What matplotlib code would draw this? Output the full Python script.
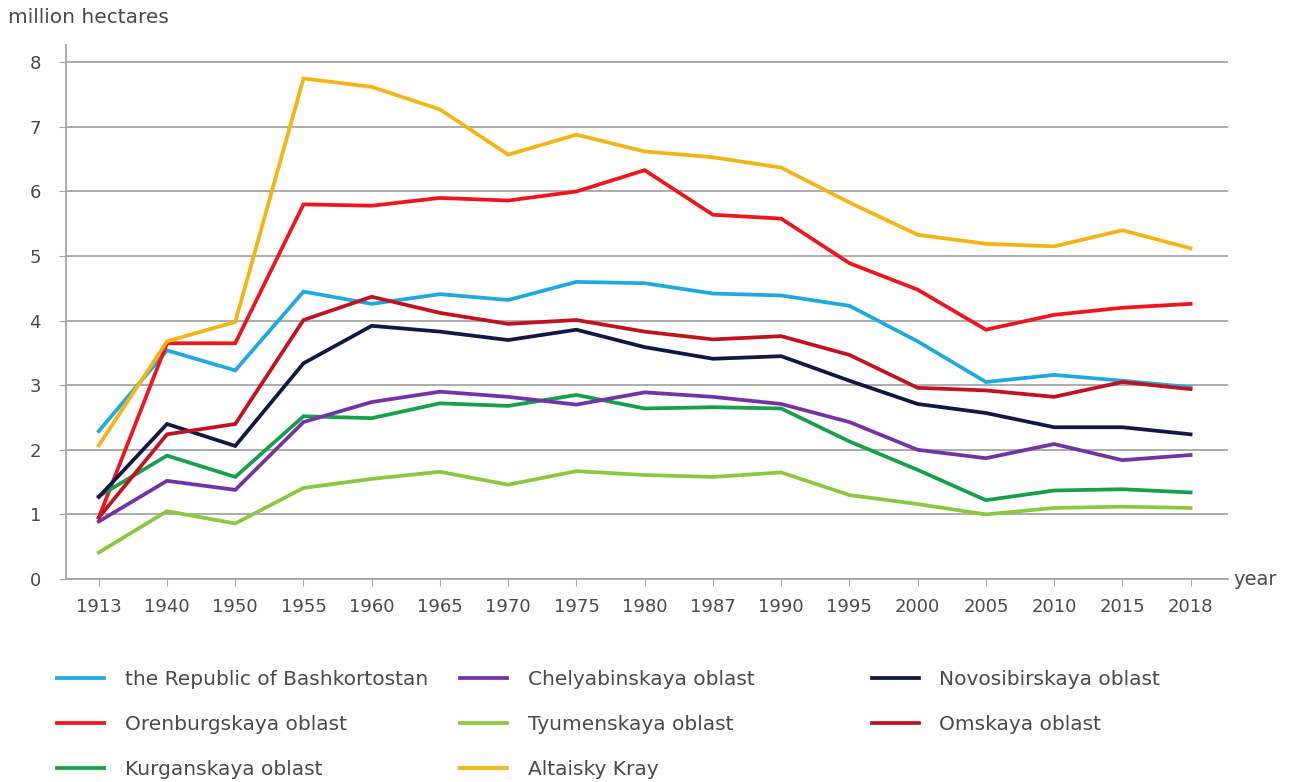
import matplotlib.pyplot as plt
import numpy as np

# data
years = ['1913', '1940', '1950', '1955', '1960', '1965', '1970', '1975', '1980',
         '1987', '1990', '1995', '2000', '2005', '2010', '2015', '2018']

bashkortostan = [2.29, 3.54, 3.23, 4.45, 4.26, 4.41, 4.32, 4.60, 4.58, 4.42, 4.39, 4.23, 3.68, 3.05, 3.16, 3.07, 2.97]
orenburg = [0.95, 3.65, 3.65, 5.80, 5.78, 5.90, 5.86, 6.00, 6.33, 5.64, 5.58, 4.89, 4.48, 3.86, 4.09, 4.20, 4.26]
kurgan = [1.28, 1.91, 1.58, 2.52, 2.49, 2.72, 2.68, 2.85, 2.64, 2.66, 2.64, 2.13, 1.69, 1.22, 1.37, 1.39, 1.34]
chelyabinsk = [0.89, 1.52, 1.38, 2.43, 2.74, 2.90, 2.82, 2.70, 2.89, 2.82, 2.71, 2.43, 2.00, 1.87, 2.09, 1.84, 1.92]
tyumen = [0.41, 1.05, 0.86, 1.41, 1.55, 1.66, 1.46, 1.67, 1.61, 1.58, 1.65, 1.30, 1.16, 1.00, 1.10, 1.12, 1.10]
altai = [2.07, 3.68, 3.98, 7.75, 7.62, 7.27, 6.57, 6.88, 6.62, 6.53, 6.37, 5.83, 5.33, 5.19, 5.15, 5.40, 5.12]
novosibirsk = [1.27, 2.40, 2.06, 3.34, 3.92, 3.83, 3.70, 3.86, 3.59, 3.41, 3.45, 3.07, 2.71, 2.57, 2.35, 2.35, 2.24]
omsk = [0.95, 2.24, 2.40, 4.01, 4.37, 4.12, 3.95, 4.01, 3.83, 3.71, 3.76, 3.47, 2.96, 2.92, 2.82, 3.05, 2.94]

series = [
    ('the Republic of Bashkortostan', bashkortostan, '#1fa9e1'),
    ('Orenburgskaya oblast', orenburg, '#f0141c'),
    ('Kurganskaya oblast', kurgan, '#16a04a'),
    ('Chelyabinskaya oblast', chelyabinsk, '#7432a8'),
    ('Tyumenskaya oblast', tyumen, '#8cc83f'),
    ('Altaisky Kray', altai, '#f4b512'),
    ('Novosibirskaya oblast', novosibirsk, '#111846'),
    ('Omskaya oblast', omsk, '#c3121f'),
]

plt.rcParams['font.family'] = ['DejaVu Sans']
text_color = '#4a4a4a'
fs = 13
legend_fs = 14.5

fig = plt.figure(figsize=(12.97, 7.82), dpi=100)
ax = fig.add_axes([0.0509, 0.2596, 0.896, 0.683])

x = np.arange(len(years))
lines = []
for name, values, color in series:
    line, = ax.plot(x, values, color=color, linewidth=2.7, label=name,
                    solid_joinstyle='miter', zorder=3)
    lines.append(line)

ax.set_xlim(-0.48, 16.55)
ax.set_ylim(0, 8.27)
ax.set_yticks(range(0, 9))
ax.set_xticks(x)
ax.set_xticklabels(years)
ax.yaxis.grid(True, color='#a6a6a6', linewidth=1.3)
ax.set_axisbelow(True)

for side in ['top', 'right']:
    ax.spines[side].set_visible(False)
ax.spines['left'].set_color('#a6a6a6')
ax.spines['bottom'].set_color('#a6a6a6')
ax.spines['left'].set_linewidth(1.3)
ax.spines['bottom'].set_linewidth(1.3)
ax.tick_params(axis='both', colors='#a6a6a6', labelcolor=text_color, labelsize=fs)
ax.tick_params(axis='x', length=5, pad=9)
ax.tick_params(axis='y', length=5, pad=13)

fig.text(0.006, 0.977, 'million hectares', fontsize=14.5, color=text_color, va='center', ha='left')
fig.text(0.951, 0.259, 'year', fontsize=14, color=text_color, va='center', ha='left')

# legend: three columns placed by hand
columns = [(0.0378, [0, 1, 2]), (0.3485, [3, 4, 5]), (0.666, [6, 7])]
for xpos, idx in columns:
    leg = fig.legend([lines[i] for i in idx], [series[i][0] for i in idx],
                     loc='upper left', bbox_to_anchor=(xpos, 0.154), frameon=False,
                     fontsize=legend_fs, handlelength=2.35, handletextpad=1.0,
                     labelspacing=1.29, borderaxespad=0)
    for t in leg.get_texts():
        t.set_color(text_color)

plt.savefig('out.png', dpi=100)
